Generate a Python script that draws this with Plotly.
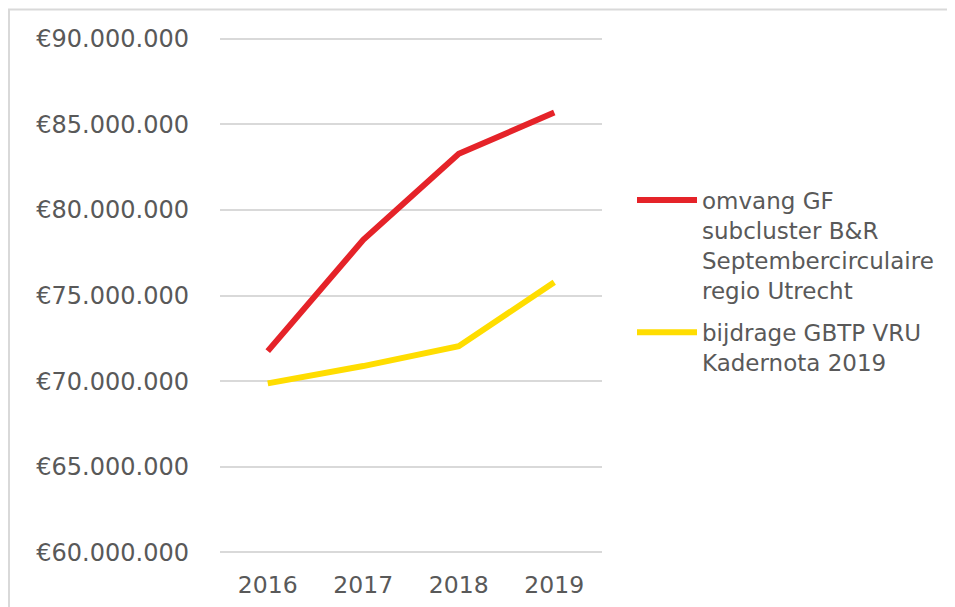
import plotly.graph_objects as go

years = ["2016", "2017", "2018", "2019"]
omvang_gf = [71750000, 78250000, 83270000, 85680000]
bijdrage_gbtp = [69870000, 70880000, 72040000, 75770000]
series_names = [
    "omvang GF<br>subcluster B&R<br>Septembercirculaire<br>regio Utrecht",
    "bijdrage GBTP VRU<br>Kadernota 2019",
]
y_tickvals = [60000000, 65000000, 70000000, 75000000, 80000000, 85000000, 90000000]
y_ticktext = ["€60.000.000", "€65.000.000", "€70.000.000", "€75.000.000",
              "€80.000.000", "€85.000.000", "€90.000.000"]

FONT = "Verdana, DejaVu Sans, sans-serif"
GREY = "#595959"

fig = go.Figure()
fig.add_trace(go.Scatter(x=years, y=omvang_gf, mode="lines", name=series_names[0],
                         line=dict(color="#E52329", width=6), legend="legend"))
fig.add_trace(go.Scatter(x=years, y=bijdrage_gbtp, mode="lines", name=series_names[1],
                         line=dict(color="#FFDD00", width=6), legend="legend2"))

OFF = 8  # page body margin
W, H = 947, 599
Y_LO, Y_HI, Y_PAD = 60000000, 90000000, 150000
PX_PER_UNIT = (552.5 - 39) / (Y_HI - Y_LO)
padpx = Y_PAD * PX_PER_UNIT
L = 220 - OFF
T = 39 - OFF - padpx
R = W - (602 - OFF)
B = H - (552.5 - OFF) - padpx
pw, ph = W - L - R, H - T - B

def px_x(p):  # screen pixel -> paper
    return (p - OFF - L) / pw

def px_y(p):
    return (H - B - (p - OFF)) / ph

legend_style = dict(xanchor="left", yanchor="top", valign="top",
                    font=dict(family=FONT, size=23, color=GREY),
                    itemwidth=60, bgcolor="rgba(0,0,0,0)")

fig.update_layout(
    width=W, height=H,
    margin=dict(l=L, r=R, t=T, b=B, autoexpand=False),
    paper_bgcolor="white", plot_bgcolor="white",
    font=dict(family=FONT, size=23, color=GREY),
    showlegend=True,
    legend=dict(x=px_x(632), y=px_y(179), **legend_style),
    legend2=dict(x=px_x(632), y=px_y(311), **legend_style),
    xaxis=dict(type="category", range=[-0.5, 3.5], showgrid=False, zeroline=False,
               showline=False, ticks="", ticklabelstandoff=int(round(16 - padpx)),
               tickfont=dict(family=FONT, size=23.5, color=GREY), fixedrange=True),
    yaxis=dict(range=[Y_LO - Y_PAD, Y_HI + Y_PAD], tickvals=y_tickvals, ticktext=y_ticktext,
               showgrid=True, gridcolor="#D9D9D9", gridwidth=2, zeroline=False,
               showline=False, ticks="", ticklabelstandoff=30,
               tickfont=dict(family=FONT, size=24, color=GREY), fixedrange=True),
    shapes=[dict(type="path", xref="paper", yref="paper",
                 path=f"M {px_x(9)} {px_y(620)} L {px_x(9)} {px_y(10)} L {px_x(970)} {px_y(10)}",
                 line=dict(color="#D9D9D9", width=2), layer="below")],
)

fig.write_html("out.html")
